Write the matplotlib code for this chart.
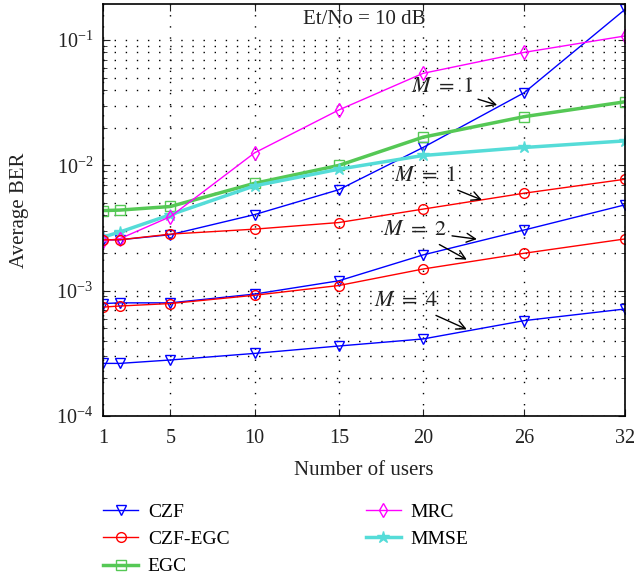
import numpy as np
import matplotlib
matplotlib.use('Agg')
import matplotlib.pyplot as plt
from matplotlib.ticker import FixedLocator, LogLocator, NullFormatter

plt.rcParams['font.family'] = ['Liberation Serif', 'DejaVu Serif']
plt.rcParams['mathtext.fontset'] = 'stix'

# number of users
users = [1, 2, 5, 10, 15, 20, 26, 32]
xticks = [1, 5, 10, 15, 20, 26, 32]

# BER values
czf_m1 = [2.55e-3, 2.55e-3, 2.8e-3, 4.05e-3, 6.4e-3, 1.39e-2, 3.8e-2, 0.176]
czf_egc_m1 = [2.55e-3, 2.55e-3, 2.83e-3, 3.1e-3, 3.5e-3, 4.48e-3, 6.0e-3, 7.76e-3]
egc = [4.36e-3, 4.4e-3, 4.7e-3, 7.2e-3, 1.0e-2, 1.68e-2, 2.45e-2, 3.22e-2]
mrc = [2.5e-3, 2.6e-3, 3.9e-3, 1.26e-2, 2.77e-2, 5.43e-2, 7.98e-2, 0.108]
mmse = [2.68e-3, 2.94e-3, 4.04e-3, 6.87e-3, 9.33e-3, 1.2e-2, 1.39e-2, 1.57e-2]
czf_m2 = [7.9e-4, 8.0e-4, 8.0e-4, 9.4e-4, 1.2e-3, 1.93e-3, 3.05e-3, 4.85e-3]
czf_egc_m2 = [7.4e-4, 7.55e-4, 7.9e-4, 9.2e-4, 1.1e-3, 1.49e-3, 1.99e-3, 2.59e-3]
czf_m4 = [2.63e-4, 2.63e-4, 2.8e-4, 3.16e-4, 3.62e-4, 4.12e-4, 5.77e-4, 7.15e-4]

blue = '#0000ff'
red = '#ff0000'
green = '#55c855'
cyan = '#55dcd8'
mag = '#ff00ff'
txt = '#222222'

fig = plt.figure(figsize=(6.34, 5.79), dpi=100)
ax = fig.add_axes([0.1625, 0.2815, 0.8235, 0.7115])

ms = 7
h_czf, = ax.plot(users, czf_m1, color=blue, lw=1, marker='v', ms=ms, mfc='none', label='CZF')
ax.plot(users, czf_m2, color=blue, lw=1, marker='v', ms=ms, mfc='none')
ax.plot(users, czf_m4, color=blue, lw=1, marker='v', ms=ms, mfc='none')
h_egc, = ax.plot(users, egc, color=green, lw=2.5, marker='s', ms=ms, mfc='none', mew=1, label='EGC')
h_mmse, = ax.plot(users, mmse, color=cyan, lw=2.5, marker='*', ms=9, label='MMSE')
h_mrc, = ax.plot(users, mrc, color=mag, lw=1, marker='d', ms=ms, mfc='none', label='MRC')
h_cegc, = ax.plot(users, czf_egc_m1, color=red, lw=1, marker='o', ms=ms, mfc='none', label='CZF-EGC')
ax.plot(users, czf_egc_m2, color=red, lw=1, marker='o', ms=ms, mfc='none')

ax.set_yscale('log')
ax.set_xlim(1, 32)
ax.set_ylim(1e-4, 0.194)
ax.xaxis.set_major_locator(FixedLocator(xticks))
ax.set_xticklabels([str(t) for t in xticks])
ax.yaxis.set_major_locator(LogLocator(base=10, numticks=10))
ax.yaxis.set_minor_locator(LogLocator(base=10, subs=np.arange(2, 10), numticks=10))
ax.yaxis.set_minor_formatter(NullFormatter())
ax.tick_params(which='both', direction='in', top=True, right=True, labelsize=14.5, colors=txt)
ax.tick_params(which='major', length=5)
ax.tick_params(which='minor', length=3)
ax.tick_params(axis='x', pad=9)
ax.tick_params(axis='y', pad=7)
ax.grid(True, which='major', axis='x', color='k', ls=(0, (1, 7)), lw=1)
ax.grid(True, which='both', axis='y', color='k', ls=(0, (1, 7)), lw=1)
for s in ax.spines.values():
    s.set_linewidth(1.2)

ax.set_xlabel('Number of users', fontsize=15, color=txt, labelpad=10)
ax.set_ylabel('Average BER', fontsize=15, color=txt)
ax.yaxis.set_label_coords(-0.142, 0.5)

ax.text(0.5, 0.962, 'Et/No = 10 dB', transform=ax.transAxes, ha='center', va='center',
        fontsize=15, color=txt)

akw = dict(arrowstyle='->', color='k', lw=1, shrinkA=2, shrinkB=0)
tkw = dict(fontsize=16, ha='center', va='center', color=txt)
ax.annotate(r'$M\ =\ 1$', xy=(24.4, 3.03e-2), xytext=(21.1, 4.15e-2), arrowprops=akw, **tkw)
ax.annotate(r'$M\ =\ 1$', xy=(23.5, 5.3e-3), xytext=(20.1, 8.1e-3), arrowprops=akw, **tkw)
ax.annotate(r'$M\ =\ 2$', xy=(23.2, 2.58e-3), xytext=(19.5, 3.0e-3), arrowprops=akw, **tkw)
ax.annotate(r'$M\ =\ 2$', xy=(22.6, 1.77e-3), xytext=(19.5, 3.0e-3), arrowprops=akw,
            alpha=0, fontsize=16, ha='center', va='center')
ax.annotate(r'$M\ =\ 4$', xy=(22.6, 4.92e-4), xytext=(19.0, 8.13e-4), arrowprops=akw, **tkw)

fig.legend(handles=[h_czf, h_cegc, h_egc, h_mrc, h_mmse], loc='lower left',
           bbox_to_anchor=(0.135, -0.024), ncol=2, frameon=False, fontsize=14,
           columnspacing=7.0, handlelength=1.8, labelspacing=0.5, handletextpad=0.5)

plt.savefig('out.png', dpi=100)
